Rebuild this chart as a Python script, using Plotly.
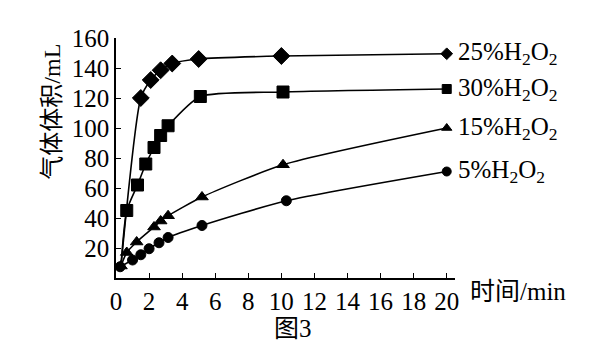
import plotly.graph_objects as go

# time (min) and gas volume (mL)
t_25 = [0.3, 1.5, 2.1, 2.7, 3.4, 5.0, 10.0, 20.0]
v_25 = [8, 120, 132, 138.5, 143, 146, 148, 149.5]

t_30 = [0.3, 0.65, 1.3, 1.8, 2.3, 2.7, 3.15, 5.1, 10.1, 20.0]
v_30 = [8, 45, 62, 76, 87, 95, 101.5, 121, 124, 126]

t_15 = [0.3, 0.65, 1.25, 2.3, 2.7, 3.15, 5.2, 10.1, 20.0]
v_15 = [8, 17, 24, 34, 38, 41.5, 54, 75.5, 100]

t_5 = [0.25, 1.0, 1.5, 2.0, 2.6, 3.15, 5.2, 10.3, 20.0]
v_5 = [7.5, 12, 15.5, 19.5, 23.5, 27, 35, 51.5, 71]

labels = ["25%H<sub>2</sub>O<sub>2</sub>", "30%H<sub>2</sub>O<sub>2</sub>",
          "15%H<sub>2</sub>O<sub>2</sub>", "5%H<sub>2</sub>O<sub>2</sub>"]

x_ticks = [0, 2, 4, 6, 8, 10, 12, 14, 16, 18, 20]
y_ticks = [20, 40, 60, 80, 100, 120, 140, 160]

SERIF = "Liberation Serif, Noto Sans CJK SC"

series = [
    (t_25, v_25, "diamond", 13, 9, False),
    (t_30, v_30, "square", 12, 9, False),
    (t_15, v_15, "triangle-up", 11, 9, True),
    (t_5, v_5, "circle", 10, 9, True),
]

fig = go.Figure()
for (t, v, sym, big, small, show_first), lab in zip(series, labels):
    sizes = [big] * len(t)
    sizes[-1] = small
    if not show_first:
        sizes[0] = 0
    fig.add_trace(go.Scatter(
        x=t, y=v, mode="lines+markers",
        line=dict(color="black", width=1.6, shape="spline", smoothing=0.6),
        marker=dict(symbol=sym, size=sizes, color="black", opacity=1,
                    line=dict(width=1, color="black")),
        showlegend=False, hoverinfo="skip"))
    fig.add_annotation(x=t[-1], y=v[-1], xref="x", yref="y", text=lab,
                       showarrow=False, xanchor="left", yanchor="middle", xshift=9,
                       font=dict(family=SERIF, size=25, color="black"))

fig.add_annotation(x=(468 - 116) / 339, y=-(292 - 278.3) / 240, xref="paper", yref="paper",
                   text="时间/min", showarrow=False, xanchor="left", yanchor="middle",
                   font=dict(family=SERIF, size=25, color="black"))
fig.add_annotation(x=(293 - 116) / 339, y=-(329 - 278.3) / 240, xref="paper", yref="paper",
                   text="图3", showarrow=False, xanchor="center", yanchor="middle",
                   font=dict(family=SERIF, size=25, color="black"))
fig.add_annotation(x=-(116 - 52) / 339, y=(278.3 - 112) / 240, xref="paper", yref="paper",
                   text="气体体积/mL", showarrow=False, textangle=-90,
                   xanchor="center", yanchor="middle",
                   font=dict(family=SERIF, size=24, color="black"))

fig.update_xaxes(range=[0, 20.5], tickvals=x_ticks, ticktext=[str(v) for v in x_ticks],
                 ticks="inside", ticklen=5, tickcolor="black", showline=True,
                 linecolor="black", linewidth=1.5, showgrid=False, zeroline=False,
                 tickfont=dict(family=SERIF, size=25, color="black"))
fig.update_yaxes(range=[0, 160], tickvals=y_ticks, ticktext=[str(v) for v in y_ticks],
                 ticks="inside", ticklen=5, tickcolor="black", showline=True,
                 linecolor="black", linewidth=1.5, showgrid=False, zeroline=False,
                 tickfont=dict(family=SERIF, size=25, color="black"))

fig.update_layout(width=611, height=353, margin=dict(l=116, r=156, t=38, b=75),
                  plot_bgcolor="white", paper_bgcolor="white")
fig.write_html("out.html")
